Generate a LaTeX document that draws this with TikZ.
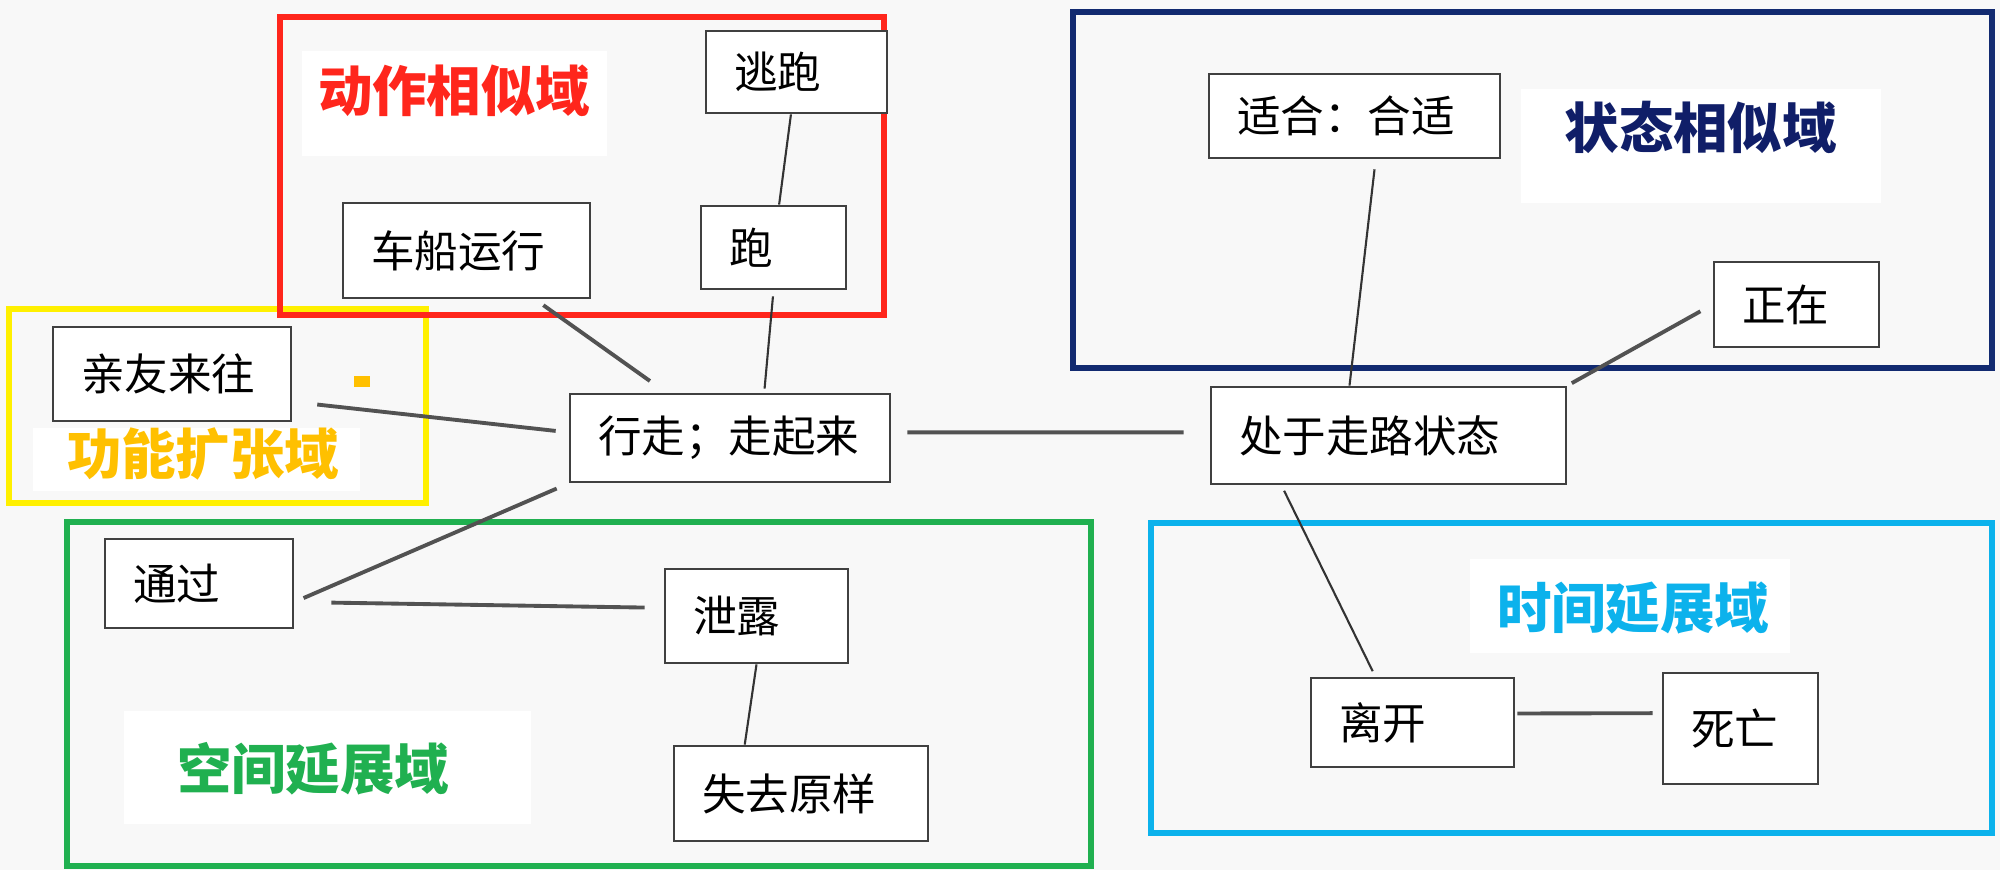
\documentclass[tikz,border=0pt]{standalone}
\usepackage{fontspec}
\setmainfont{Noto Sans CJK SC}
\definecolor{latar}{RGB}{248,248,248}
\definecolor{merah}{RGB}{255,38,28}
\definecolor{kuning}{RGB}{255,240,0}
\definecolor{kuningtua}{RGB}{255,192,0}
\definecolor{biru}{RGB}{18,42,112}
\definecolor{birutua}{RGB}{16,30,104}
\definecolor{hijau}{RGB}{32,176,80}
\definecolor{birumuda}{RGB}{12,178,236}
\tikzset{
  kotak/.style={draw=black!75, fill=white, line width=0.8pt, inner xsep=2.8mm,
    inner ysep=0pt, align=left, font=\fontsize{12.4}{15}\selectfont},
  ranah/.style={fill=white, inner sep=0pt, anchor=north west,
    font=\fontsize{15.5}{18}\selectfont\bfseries},
  bingkai/.style={line width=1.6pt},
  garis/.style={draw=black!80, line width=0.6pt},
  garistebal/.style={draw=black!68, line width=1.1pt}
}

\begin{document}
\begin{tikzpicture}
  \fill[latar] (0,0) rectangle (20,-8.7);
  \useasboundingbox (0,0) rectangle (20,-8.7);

  % bingkai ranah
  \draw[bingkai,kuning]   (0.09,-3.09) rectangle (4.26,-5.03);
  \draw[bingkai,merah]    (2.80,-0.17) rectangle (8.84,-3.15);
  \draw[bingkai,biru]     (10.73,-0.12) rectangle (19.92,-3.68);
  \draw[bingkai,hijau]    (0.67,-5.22) rectangle (10.91,-8.66);
  \draw[bingkai,birumuda] (11.51,-5.23) rectangle (19.92,-8.33);

  % nama ranah
  \node[ranah, text=merah, minimum width=30.5mm, text height=6.07mm, text depth=4.43mm]
    (aksi) at (3.01,-0.50) {动作相似域};
  \node[ranah, text=birutua, minimum width=36mm, text height=5.97mm, text depth=5.43mm]
    (keadaan) at (15.20,-0.88) {状态相似域};
  \node[ranah, text=kuningtua, minimum width=32.7mm, text height=4.67mm, text depth=1.63mm]
    (fungsi) at (0.32,-4.27) {\hspace*{1.4mm}功能扩张域};
  \node[ranah, text=hijau, minimum width=40.7mm, text height=7.87mm, text depth=3.43mm]
    (ruang) at (1.23,-7.10) {空间延展域\hspace*{2.8mm}};
  \node[ranah, text=birumuda, minimum width=32mm, text height=6.97mm, text depth=2.43mm]
    (waktu) at (14.69,-5.58) {\hspace*{0.7mm}时间延展域};
  \fill[kuningtua] (3.54,-3.76) rectangle (3.70,-3.87);

  % kotak makna
  \node[kotak, text width=12.5mm, minimum height=8.2mm] (taopao)   at (7.965,-0.72)  {逃跑};
  \node[kotak, text width=19.1mm, minimum height=9.5mm] (chechuan) at (4.665,-2.505) {车船运行};
  \node[kotak, text width=8.9mm,  minimum height=8.3mm] (pao)      at (7.735,-2.475) {跑};
  \node[kotak, text width=18.2mm, minimum height=9.4mm] (qinyou)   at (1.72,-3.74)   {亲友来往};
  \node[kotak, text width=26.4mm, minimum height=8.8mm] (xingzou)  at (7.30,-4.38)   {行走；走起来};
  \node[kotak, text width=23.5mm, minimum height=8.4mm] (shihe)    at (13.545,-1.16) {适合：合适};
  \node[kotak, text width=10.9mm, minimum height=8.5mm] (zhengzai) at (17.965,-3.045) {正在};
  \node[kotak, text width=29.9mm, minimum height=9.7mm] (chuyu)    at (13.885,-4.355) {处于走路状态};
  \node[kotak, text width=13.2mm, minimum height=8.9mm] (tongguo)  at (1.99,-5.835)  {通过};
  \node[kotak, text width=12.7mm, minimum height=9.4mm] (xielu)    at (7.565,-6.16)  {泄露};
  \node[kotak, text width=19.8mm, minimum height=9.5mm] (shiqu)    at (8.01,-7.935)  {失去原样};
  \node[kotak, text width=14.7mm, minimum height=8.9mm] (likai)    at (14.125,-7.225) {离开};
  \node[kotak, text width=9.9mm,  minimum height=11.1mm] (siwang)  at (17.405,-7.285) {死亡};

  % garis penghubung
  \draw[garis] (taopao) -- (pao);
  \draw[garis, shorten <=0.6mm, shorten >=0.4mm] (pao.south) -- (xingzou.53);
  \draw[garistebal, shorten <=1mm, shorten >=2mm] (chechuan) -- (xingzou);
  \draw[garistebal, shorten <=2.5mm, shorten >=1.3mm] (qinyou.-13) -- (xingzou.178);
  \draw[garistebal, shorten <=1.3mm, shorten >=1mm] (xingzou.south west) -- (tongguo.-11);
  \draw[garistebal, shorten <=3.7mm, shorten >=1.9mm] (tongguo.-11) -- (xielu.175);
  \draw[garis] (xielu.south) -- (shiqu.139);
  \draw[garistebal, shorten <=1.6mm, shorten >=2.6mm] (xingzou.2) -- (chuyu.179);
  \draw[garis, shorten <=1mm] (shihe.-64) -- (chuyu.128);
  \draw[garistebal, shorten <=1.4mm, shorten >=0.5mm] (zhengzai.west) -- (chuyu.north east);
  \draw[garis, shorten <=0.6mm, shorten >=0.6mm] (chuyu.-155) -- (likai.129);
  \draw[garistebal, shorten <=0.2mm, shorten >=0.9mm] (likai.5) -- (siwang.169);
\end{tikzpicture}
\end{document}
